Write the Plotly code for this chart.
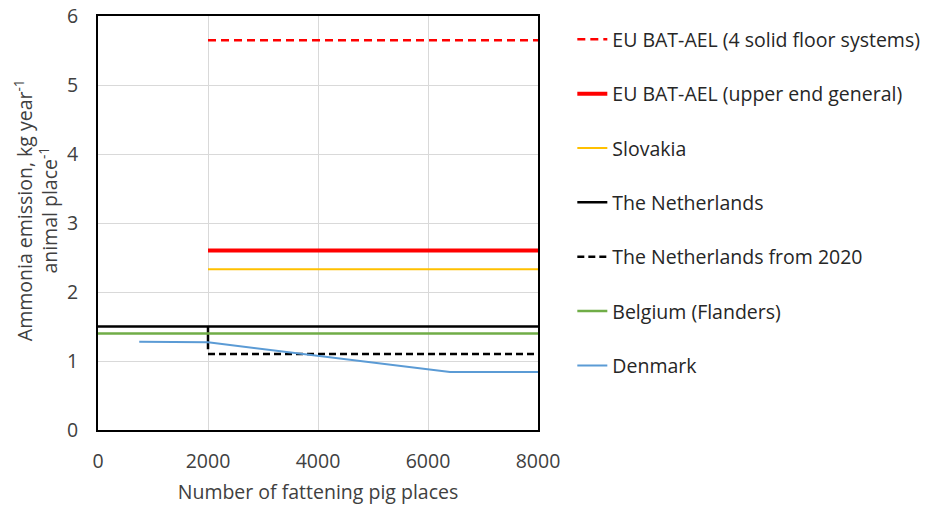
import plotly.graph_objects as go

# Data
eu_solid_x = [2000, 8000]
eu_solid_y = [5.65, 5.65]
eu_upper_x = [2000, 8000]
eu_upper_y = [2.6, 2.6]
slovakia_x = [2000, 8000]
slovakia_y = [2.33, 2.33]
nl_x = [0, 2000, 2000, 2000, 8000]
nl_y = [1.5, 1.5, 1.17, 1.5, 1.5]
nl2020_x = [2000, 8000]
nl2020_y = [1.1, 1.1]
belgium_x = [0, 8000]
belgium_y = [1.4, 1.4]
denmark_x = [750, 2000, 6400, 8000]
denmark_y = [1.28, 1.27, 0.84, 0.84]

FONT = "Open Sans"
FS = 19.5

fig = go.Figure()
series = [
    ("EU BAT-AEL (4 solid floor systems)", eu_solid_x, eu_solid_y, "#ff0000", 2.5, "8px,5px"),
    ("EU BAT-AEL (upper end general)", eu_upper_x, eu_upper_y, "#ff0000", 4, "solid"),
    ("Slovakia", slovakia_x, slovakia_y, "#ffc000", 2, "solid"),
    ("The Netherlands", nl_x, nl_y, "#000000", 2.5, "solid"),
    ("The Netherlands from 2020", nl2020_x, nl2020_y, "#000000", 2.5, "7px,4px"),
    ("Belgium (Flanders)", belgium_x, belgium_y, "#70ad47", 2.5, "solid"),
    ("Denmark", denmark_x, denmark_y, "#5b9bd5", 2, "solid"),
]
for i, (name, xs, ys, col, w, dash) in enumerate(series):
    fig.add_trace(go.Scatter(x=xs, y=ys, mode="lines", name=name,
                             legendgroup=f"g{i}",
                             line=dict(color=col, width=w, dash=dash)))

fig.add_annotation(
    text="Ammonia emission, kg year<sup>-1</sup><br>animal place<sup>-1</sup>",
    xref="paper", yref="paper", x=-0.141, y=0.531,
    xanchor="center", yanchor="middle", textangle=-90, showarrow=False,
    font=dict(family=FONT, size=FS, color="#404040"),
)

fig.update_layout(
    width=928, height=506,
    margin=dict(l=98, r=390, t=16, b=76, autoexpand=False),
    paper_bgcolor="white", plot_bgcolor="white",
    font=dict(family=FONT, size=FS, color="#404040"),
    legend=dict(x=1.078, y=0.99, xanchor="left", yanchor="top",
                font=dict(family=FONT, size=FS, color="#262626"),
                tracegroupgap=26, bgcolor="rgba(0,0,0,0)"),
    xaxis=dict(range=[0, 8000], tickvals=[0, 2000, 4000, 6000, 8000],
               showgrid=True, gridcolor="#d9d9d9", gridwidth=1,
               showline=True, linecolor="black", linewidth=2, mirror=True,
               zeroline=False, ticks="", tickfont=dict(size=FS), automargin=False,
               ticklabelstandoff=13,
               title=dict(text="Number of fattening pig places", font=dict(size=FS), standoff=12)),
    yaxis=dict(range=[0, 6], tickvals=[0, 1, 2, 3, 4, 5, 6],
               showgrid=True, gridcolor="#d9d9d9", gridwidth=1,
               showline=True, linecolor="black", linewidth=2, mirror=True,
               zeroline=False, ticks="", tickfont=dict(size=FS), automargin=False,
               ticklabelstandoff=14),
)

fig.write_html("out.html", config={"displayModeBar": False},
               post_script="document.body.style.margin='0px';")
